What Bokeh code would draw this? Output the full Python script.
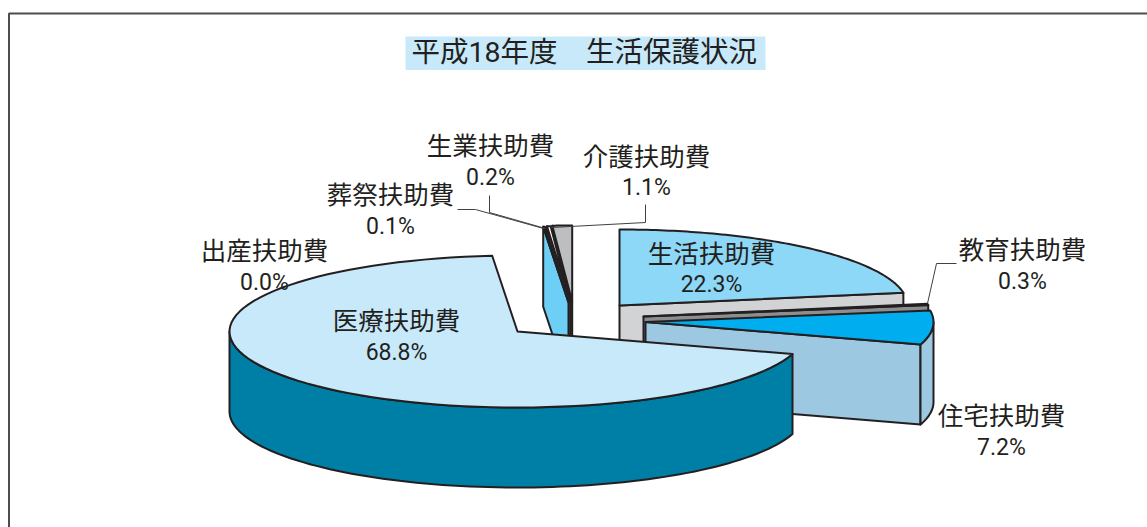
import numpy as np
from bokeh.plotting import figure
from bokeh.models import Range1d
from bokeh.core.properties import value
from bokeh.embed import file_html
from bokeh.resources import INLINE

title_text = "平成18年度　生活保護状況"
categories = ["生活扶助費", "教育扶助費", "住宅扶助費", "医療扶助費", "出産扶助費", "葬祭扶助費", "生業扶助費", "介護扶助費"]
values = [22.3, 0.3, 7.2, 68.8, 0.0, 0.1, 0.2, 1.1]

top_colors = ["#8DD7F7", "#8C8C8C", "#00ADEF", "#C7E9FA", "#C7E9FA", "#FFFFFF", "#FFFFFF", "#BCBEC0"]
cut_colors = ["#D1D3D4", "#8C8E90", "#9CC9E1", "#007FA6", "#007FA6", "#6DCFF6", "#58595B", "#6D6E71"]
centers_x = [619, 643, 645, 517, 517, 568, 570, 571.7]
centers_y = [305, 316, 321.5, 331, 331, 302, 301.5, 301]
label_x = [711, 1022, 1001, 396, 264, 390, 490, 646]
label_y = [251, 247, 413, 318, 248, 192, 143, 154]
pct_y = [284, 281, 447, 352, 282, 226, 177, 187]
draw_order = [0, 1, 2, 7, 6, 5, 4, 3]

RX, RY, DEPTH = 288.0, 76.0, 80.0
INK = "#231F20"

p = figure(width=1147, height=527, output_backend="svg", toolbar_location=None,
           x_range=Range1d(0, 1147), y_range=Range1d(527, 0),
           x_axis_type=None, y_axis_type=None, min_border=0, margin=0,
           outline_line_color=None, background_fill_color="white", border_fill_color="white")
p.grid.visible = False

# frame (open on right and bottom)
p.line([8.5, 8.5, 1147], [527, 13, 13], line_color="#4D4D4D", line_width=2)

# title
p.quad(left=[405], right=[765], top=[36], bottom=[69.5], fill_color="#C7E9FA", line_color=None)
p.text([411], [52], text=[title_text], text_font=value("Roboto, Noto Sans CJK JP"),
       text_font_size="28.5px", text_color=INK, text_align="left", text_baseline="middle")

# slice angles: clockwise from the top, in value order
fractions = np.array(values) / sum(values)
ends = 90 - np.cumsum(fractions) * 360
starts = np.concatenate([[90], ends[:-1]])


def rim(i, a, b, n=90):
    t = np.radians(np.linspace(a, b, n))
    return centers_x[i] + RX * np.cos(t), centers_y[i] - RY * np.sin(t)


def poly(xs, ys, color, lw=2):
    p.patch(xs, ys, fill_color=color, line_color=INK, line_width=lw, line_join="round")


def cut_face(i, ang):
    cx, cy = centers_x[i], centers_y[i]
    xe, ye = rim(i, ang, ang, 1)
    poly([cx, xe[0], xe[0], cx], [cy, ye[0], ye[0] + DEPTH, cy + DEPTH], cut_colors[i])


for i in draw_order:
    if values[i] == 0:
        continue
    a, b = starts[i], ends[i]  # clockwise: a > b
    # cut faces that look towards the viewer
    if np.cos(np.radians(a)) < -1e-9:
        cut_face(i, a)
    if np.cos(np.radians(b)) > 1e-9:
        cut_face(i, b)
    # rim wall over the front half of the ellipse (sin < 0)
    for w0, w1 in [(-180, 0), (-540, -360)]:
        s, e = max(b, w0), min(a, w1)
        if e > s:
            xr, yr = rim(i, s, e)
            poly(np.concatenate([xr, xr[::-1]]), np.concatenate([yr, yr[::-1] + DEPTH]), cut_colors[i])
    xr, yr = rim(i, a, b)
    poly(np.concatenate([[centers_x[i]], xr]), np.concatenate([[centers_y[i]], yr]), top_colors[i])

# leader lines
leader_x = [[927, 936, 956], [551, 645, 645], [545, 489, 489], [543, 475, 457]]
leader_y = [[303, 263, 263], [227, 222, 204], [228, 212, 195], [228, 209, 209]]
p.multi_line(leader_x, leader_y, line_color="#414042", line_width=1)

# labels
font_cjk = value("Noto Sans CJK JP")
font_num = value("Roboto")
p.text(label_x, label_y, text=categories, text_font=font_cjk, text_font_size="25.5px",
       text_color=INK, text_align="center", text_baseline="middle")
p.text(label_x, pct_y, text=[f"{v:.1f}%" for v in values], text_font=font_num, text_font_size="23px",
       text_color=INK, text_align="center", text_baseline="middle")

open("out.html", "w").write(file_html(p, INLINE))
